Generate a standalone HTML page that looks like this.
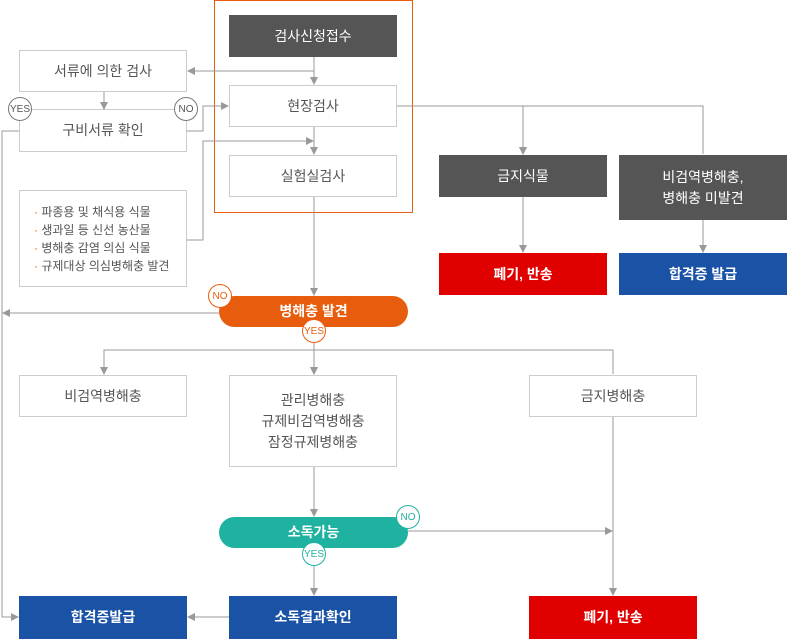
<!DOCTYPE html>
<html><head><meta charset="utf-8"><style>
body{margin:0;width:788px;height:639px;position:relative;background:#fff;font-family:"Liberation Sans","Noto Sans CJK KR",sans-serif;overflow:hidden}
.b{position:absolute;box-sizing:border-box;display:flex;align-items:center;justify-content:center;text-align:center;font-size:14px;line-height:21px}
.w{border:1px solid #ccc;color:#555;background:#fff}
.d{background:#555;color:#fff}
.r{background:#e00000;color:#fff;font-weight:bold}
.bl{background:#1a52a6;color:#fff;font-weight:bold}
.p{border-radius:16px;color:#fff;font-weight:bold}
.c{position:absolute;box-sizing:border-box;width:24px;height:24px;border-radius:50%;background:#fff;font-size:10px;display:flex;align-items:center;justify-content:center}
</style></head><body>
<svg width="788" height="639" style="position:absolute;left:0;top:0">
<defs><marker id="a" markerWidth="8" markerHeight="8" refX="7" refY="4" orient="auto" markerUnits="userSpaceOnUse"><path d="M0,0L8,4L0,8z" fill="#999"/></marker></defs>
<g stroke="#999" stroke-width="1" fill="none">
<rect x="214.5" y="0.5" width="198" height="212" stroke="#e85d0d"/>
<path d="M314,57V84" marker-end="url(#a)"/>
<path d="M314,71H188" marker-end="url(#a)"/>
<path d="M104,92V109" marker-end="url(#a)"/>
<path d="M32,110H174"/>
<path d="M187,131H203V106H228" marker-end="url(#a)"/>
<path d="M187,240H203V141H313" marker-end="url(#a)"/>
<path d="M314,127V154" marker-end="url(#a)"/>
<path d="M314,197V295" marker-end="url(#a)"/>
<path d="M397,106H703V154M523,106V154" marker-end="url(#a)"/>
<path d="M523,106V154" marker-end="url(#a)"/>
<path d="M523,197V252" marker-end="url(#a)"/>
<path d="M703,220V252" marker-end="url(#a)"/>
<path d="M19,131H2V617H18" marker-end="url(#a)"/>
<path d="M219,313H3" marker-end="url(#a)"/>
<path d="M104,374V350H613V374M314,350V374" marker-end="url(#a)"/>
<path d="M104,350V374" marker-end="url(#a)"/>
<path d="M314,343V374" marker-end="url(#a)"/>
<path d="M314,467V516" marker-end="url(#a)"/>
<path d="M314,548V595" marker-end="url(#a)"/>
<path d="M408,531H612" marker-end="url(#a)"/>
<path d="M613,417V595" marker-end="url(#a)"/>
<path d="M229,617H188" marker-end="url(#a)"/>
</g></svg>
<div class="b d" style="left:229px;top:15px;width:168px;height:42px">검사신청접수</div>
<div class="b w" style="left:19px;top:50px;width:168px;height:42px">서류에 의한 검사</div>
<div class="b w" style="left:229px;top:85px;width:168px;height:42px">현장검사</div>
<div class="b w" style="left:19px;top:110px;width:168px;height:42px;border-top:none">구비서류 확인</div>
<div class="b w" style="left:229px;top:155px;width:168px;height:42px">실험실검사</div>
<div class="b w" style="left:19px;top:190px;width:168px;height:97px;font-size:12px;line-height:18px;justify-content:flex-start;padding-left:14px;text-align:left"><div><span style="color:#e85d0d">·</span> 파종용 및 채식용 식물<br><span style="color:#e85d0d">·</span> 생과일 등 신선 농산물<br><span style="color:#e85d0d">·</span> 병해충 감염 의심 식물<br><span style="color:#e85d0d">·</span> 규제대상 의심병해충 발견</div></div>
<div class="b d" style="left:439px;top:155px;width:168px;height:42px">금지식물</div>
<div class="b d" style="left:619px;top:155px;width:168px;height:65px">비검역병해충,<br>병해충 미발견</div>
<div class="b r" style="left:439px;top:253px;width:168px;height:42px">폐기, 반송</div>
<div class="b bl" style="left:619px;top:253px;width:168px;height:42px">합격증 발급</div>
<div class="b p" style="left:219px;top:296px;width:189px;height:31px;background:#e85d0d">병해충 발견</div>
<div class="b w" style="left:19px;top:375px;width:168px;height:42px">비검역병해충</div>
<div class="b w" style="left:229px;top:375px;width:168px;height:92px">관리병해충<br>규제비검역병해충<br>잠정규제병해충</div>
<div class="b w" style="left:529px;top:375px;width:168px;height:42px">금지병해충</div>
<div class="b p" style="left:219px;top:517px;width:189px;height:31px;background:#20b2a0">소독가능</div>
<div class="b bl" style="left:19px;top:596px;width:168px;height:43px">합격증발급</div>
<div class="b bl" style="left:229px;top:596px;width:168px;height:43px">소독결과확인</div>
<div class="b r" style="left:529px;top:596px;width:168px;height:43px">폐기, 반송</div>
<div class="c" style="left:8px;top:97px;border:1px solid #777;color:#555">YES</div>
<div class="c" style="left:174px;top:97px;border:1px solid #777;color:#555">NO</div>
<div class="c" style="left:208px;top:284px;border:1px solid #e85d0d;color:#e85d0d">NO</div>
<div class="c" style="left:302px;top:319px;border:1px solid #e85d0d;color:#e85d0d">YES</div>
<div class="c" style="left:396px;top:505px;border:1px solid #20b2a0;color:#20b2a0">NO</div>
<div class="c" style="left:302px;top:542px;border:1px solid #20b2a0;color:#20b2a0">YES</div>
</body></html>
